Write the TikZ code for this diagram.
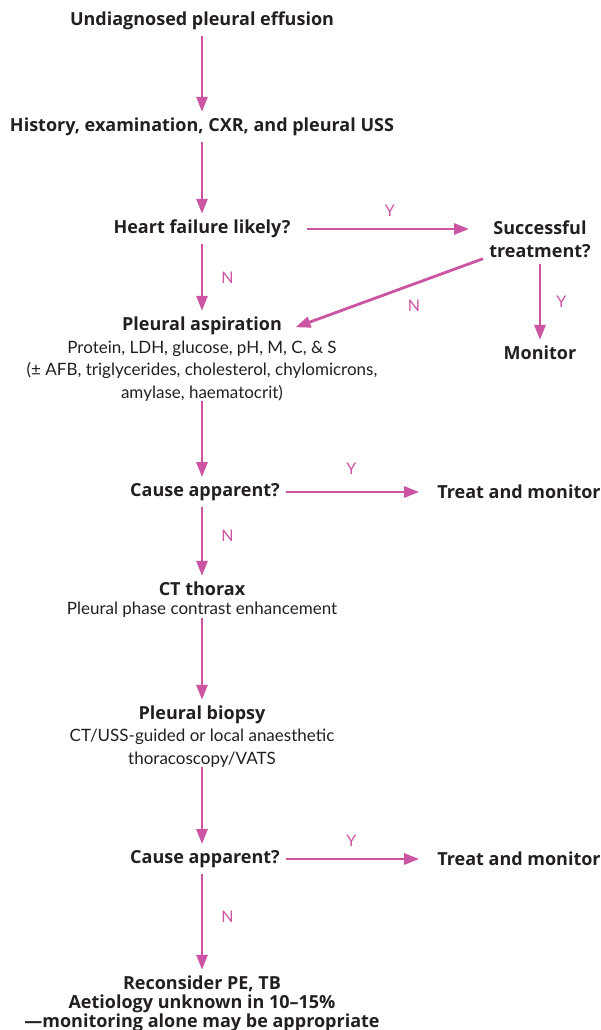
\documentclass[tikz,border=0pt]{standalone}
\usepackage{fontspec}
\setmainfont{Lato}
\newfontfamily\headfont{Open Sans}
\usepackage{xcolor}
\usetikzlibrary{positioning,arrows.meta}
\definecolor{rose}{HTML}{CB55A2}
\definecolor{ink}{HTML}{231F20}

\begin{document}
\begin{tikzpicture}[x=1pt,y=-1pt,>={Triangle[length=15pt,width=11pt]},
  stage/.style={text=ink,font=\headfont\bfseries\fontsize{18}{23}\selectfont,align=center,inner sep=6pt},
  note/.style={text=ink,font=\fontsize{17}{22.5}\selectfont,align=center,inner sep=0pt},
  arrow/.style={->,line width=2.8pt,color=rose},
  yn/.style={text=rose,font=\fontsize{16}{18}\selectfont,inner sep=0pt}]
\useasboundingbox (0,0) rectangle (601,1030);
% main column
\node[stage] (start) at (202,21) {Undiagnosed pleural effusion};
\node[stage] (hist) at (202,127) {History, examination, CXR, and pleural USS};
\node[stage] (hf) at (202,229) {Heart failure likely?};
\node[stage] (asp) at (202,326) {Pleural aspiration};
\node[note] (aspnote) at (202,371) {Protein, LDH, glucose, pH, M, C, \& S\\(± AFB, triglycerides, cholesterol, chylomicrons,\\amylase, haematocrit)};
\node[stage] (cause1) at (205,492) {Cause apparent?};
\node[stage] (ct) at (202,589) {CT thorax};
\node[note] (ctnote) at (202,610) {Pleural phase contrast enhancement};
\node[stage] (biopsy) at (202,715) {Pleural biopsy};
\node[note] (biopsynote) at (202,748) {CT/USS-guided or local anaesthetic\\thoracoscopy/VATS};
\node[stage] (cause2) at (205,859) {Cause apparent?};
\node[stage,font=\headfont\bfseries\fontsize{18}{19}\selectfont] (recon) at (202,1004) {Reconsider PE, TB\\Aetiology unknown in 10–15\%\\—monitoring alone may be appropriate};
% side column
\node[stage] (succ) at (540,239) {Successful\\treatment?};
\node[stage] (mon) at (540,353) {Monitor};
\node[stage] (treat1) at (519,492) {Treat and monitor};
\node[stage] (treat2) at (519,859) {Treat and monitor};
% connectors
\draw[arrow] (start) -- (hist);
\draw[arrow] (hist) -- (hf);
\draw[arrow] (hf) -- node[yn,right=18pt] (hfn) {N} (asp);
\draw[arrow,shorten <=10pt,shorten >=14pt] (hf) -- node[yn,above=11pt] (hfy) {Y} (hf -| succ.west);
\draw[arrow,shorten >=8pt] ([yshift=5pt]succ.south west) -- node[yn,below right=4pt and 21pt] (succn) {N} ([yshift=-4pt]asp.east);
\draw[arrow] (succ) -- node[yn,right=15pt] (succy) {Y} (mon);
\draw[arrow] (aspnote) -- (aspnote.south |- cause1.north);
\draw[arrow,shorten >=12pt] (cause1) -- node[yn,above=16pt,pos=0.45] (c1y) {Y} (cause1 -| treat1.west);
\draw[arrow] (cause1.south -| ct) -- node[yn,right=18pt,pos=0.42] (c1n) {N} (ct);
\draw[arrow] (ctnote) -- (biopsy);
\draw[arrow] (biopsynote) -- (biopsynote.south |- cause2.north);
\draw[arrow,shorten >=12pt] (cause2) -- node[yn,above=11pt,pos=0.45] (c2y) {Y} (cause2 -| treat2.west);
\draw[arrow] (cause2.south -| recon) -- node[yn,right=18pt,pos=0.45] (c2n) {N} (recon);
\end{tikzpicture}
\end{document}
